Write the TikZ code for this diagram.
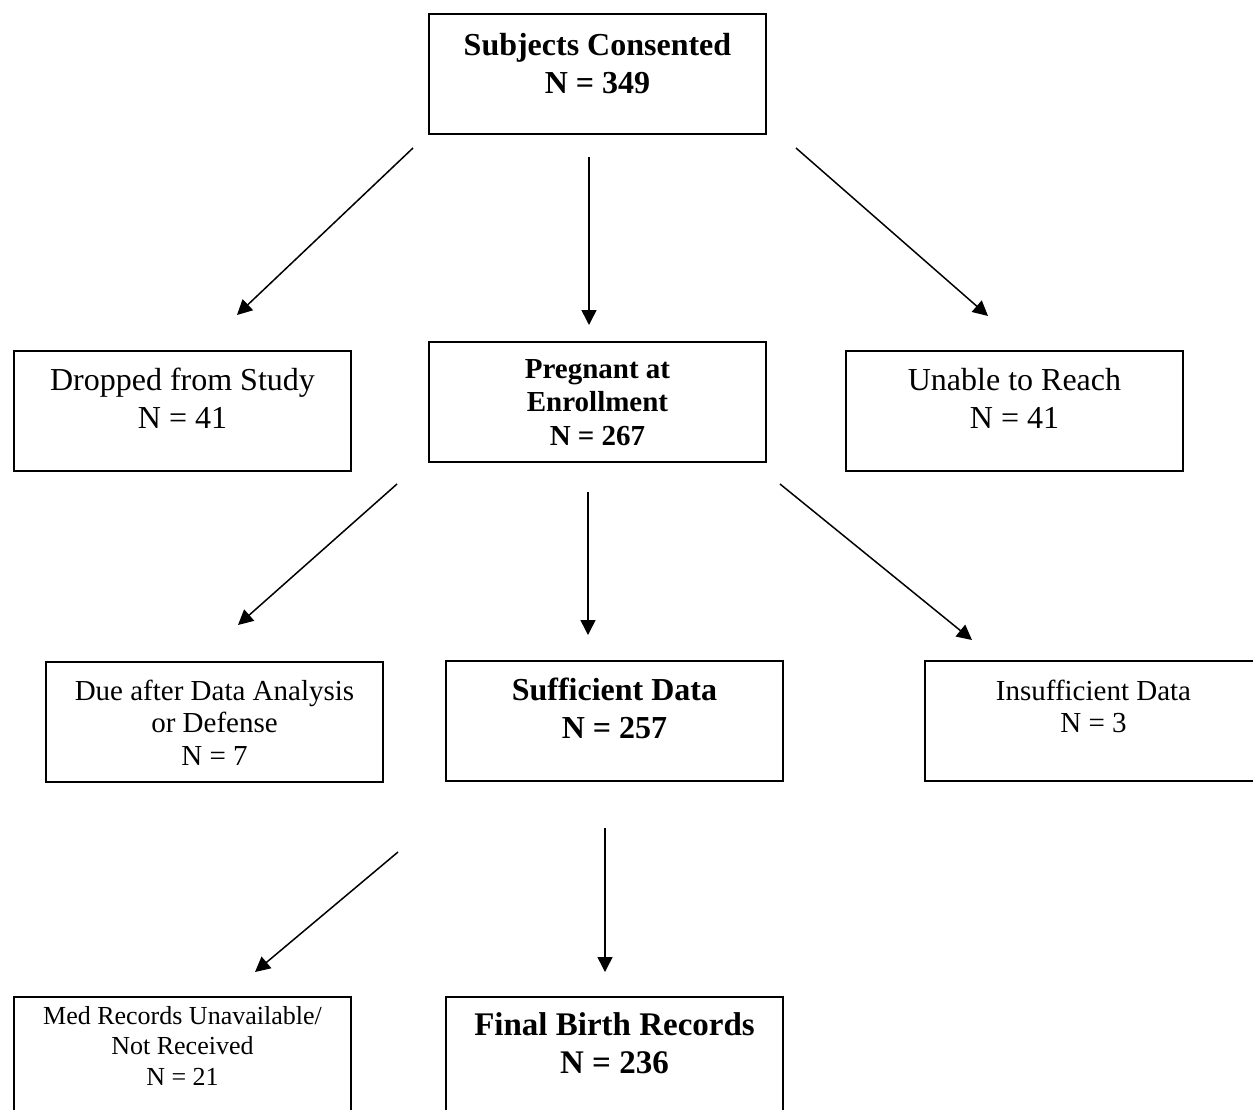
\documentclass[tikz,border=0pt]{standalone}
\usepackage{fontspec}
\setmainfont{Liberation Serif}
\usepackage{tikz}
\usetikzlibrary{arrows.meta}

\begin{document}
\begin{tikzpicture}[x=0.5pt,y=-0.5pt]
\useasboundingbox (0,0) rectangle (1253,1109);

\begin{scope}[every node/.style={draw,line width=1pt,anchor=north west,
                                 inner sep=0pt,text width=168.5pt,align=flush center,
                                 text height=19.5pt,text depth=40.5pt,
                                 font=\fontsize{16}{19}\selectfont}]
    \node[text height=20.5pt,text depth=39.5pt] (Consented) at (428,13) {\textbf{Subjects Consented}\\\textbf{N = 349}};
    \node (Dropped) at (13,350) {Dropped from Study\\N = 41};
    \node[text height=18pt,text depth=42pt,font=\fontsize{14.5}{16.75}\selectfont\bfseries] (Pregnant) at (428,341) {Pregnant at\\Enrollment\\N = 267};
    \node (Unreachable) at (845,350) {Unable to Reach\\N = 41};
    \node[text height=19pt,text depth=41pt,font=\fontsize{14.5}{16.25}\selectfont] (DueLater) at (45,661) {Due after Data Analysis\\or Defense\\N = 7};
    \node[font=\fontsize{16}{19}\selectfont\bfseries] (Sufficient) at (445,660) {Sufficient Data\\N = 257};
    \node[font=\fontsize{14.5}{16.25}\selectfont] (Insufficient) at (924,660) {Insufficient Data\\N = 3};
    \node[text height=13.5pt,text depth=46.5pt,font=\fontsize{13}{15.25}\selectfont] (MedRecords) at (13,996) {Med Records Unavailable/\\Not Received\\N = 21};
    \node[text height=19pt,text depth=41pt,font=\fontsize{16.5}{19}\selectfont\bfseries] (FinalRecords) at (445,996) {Final Birth Records\\N = 236};
    \end{scope}

% arrow ends (the arrows do not touch the boxes)
\coordinate (ConsentedL) at (413,148);
\coordinate (ConsentedM) at (589,157);
\coordinate (ConsentedR) at (796,148);
\coordinate (DroppedIn) at (237,315);
\coordinate (PregnantIn) at (589,325);
\coordinate (UnreachableIn) at (988,316);
\coordinate (PregnantL) at (397,484);
\coordinate (PregnantM) at (588,492);
\coordinate (PregnantR) at (780,484);
\coordinate (DueLaterIn) at (238,625);
\coordinate (SufficientIn) at (588,635);
\coordinate (InsufficientIn) at (972,640);
\coordinate (SufficientL) at (398,852);
\coordinate (SufficientM) at (605,828);
\coordinate (MedRecordsIn) at (255,972);
\coordinate (FinalRecordsIn) at (605,972);

\begin{scope}[>={Triangle[length=7.5pt,width=7.5pt]},
              every path/.style={draw=black,line width=0.75pt}]
    \draw [->] (ConsentedL) -- (DroppedIn);
    \draw [->] (ConsentedM) -- (PregnantIn);
    \draw [->] (ConsentedR) -- (UnreachableIn);
    \draw [->] (PregnantL) -- (DueLaterIn);
    \draw [->] (PregnantM) -- (SufficientIn);
    \draw [->] (PregnantR) -- (InsufficientIn);
    \draw [->] (SufficientL) -- (MedRecordsIn);
    \draw [->] (SufficientM) -- (FinalRecordsIn);
    \end{scope}

\end{tikzpicture}
\end{document}
